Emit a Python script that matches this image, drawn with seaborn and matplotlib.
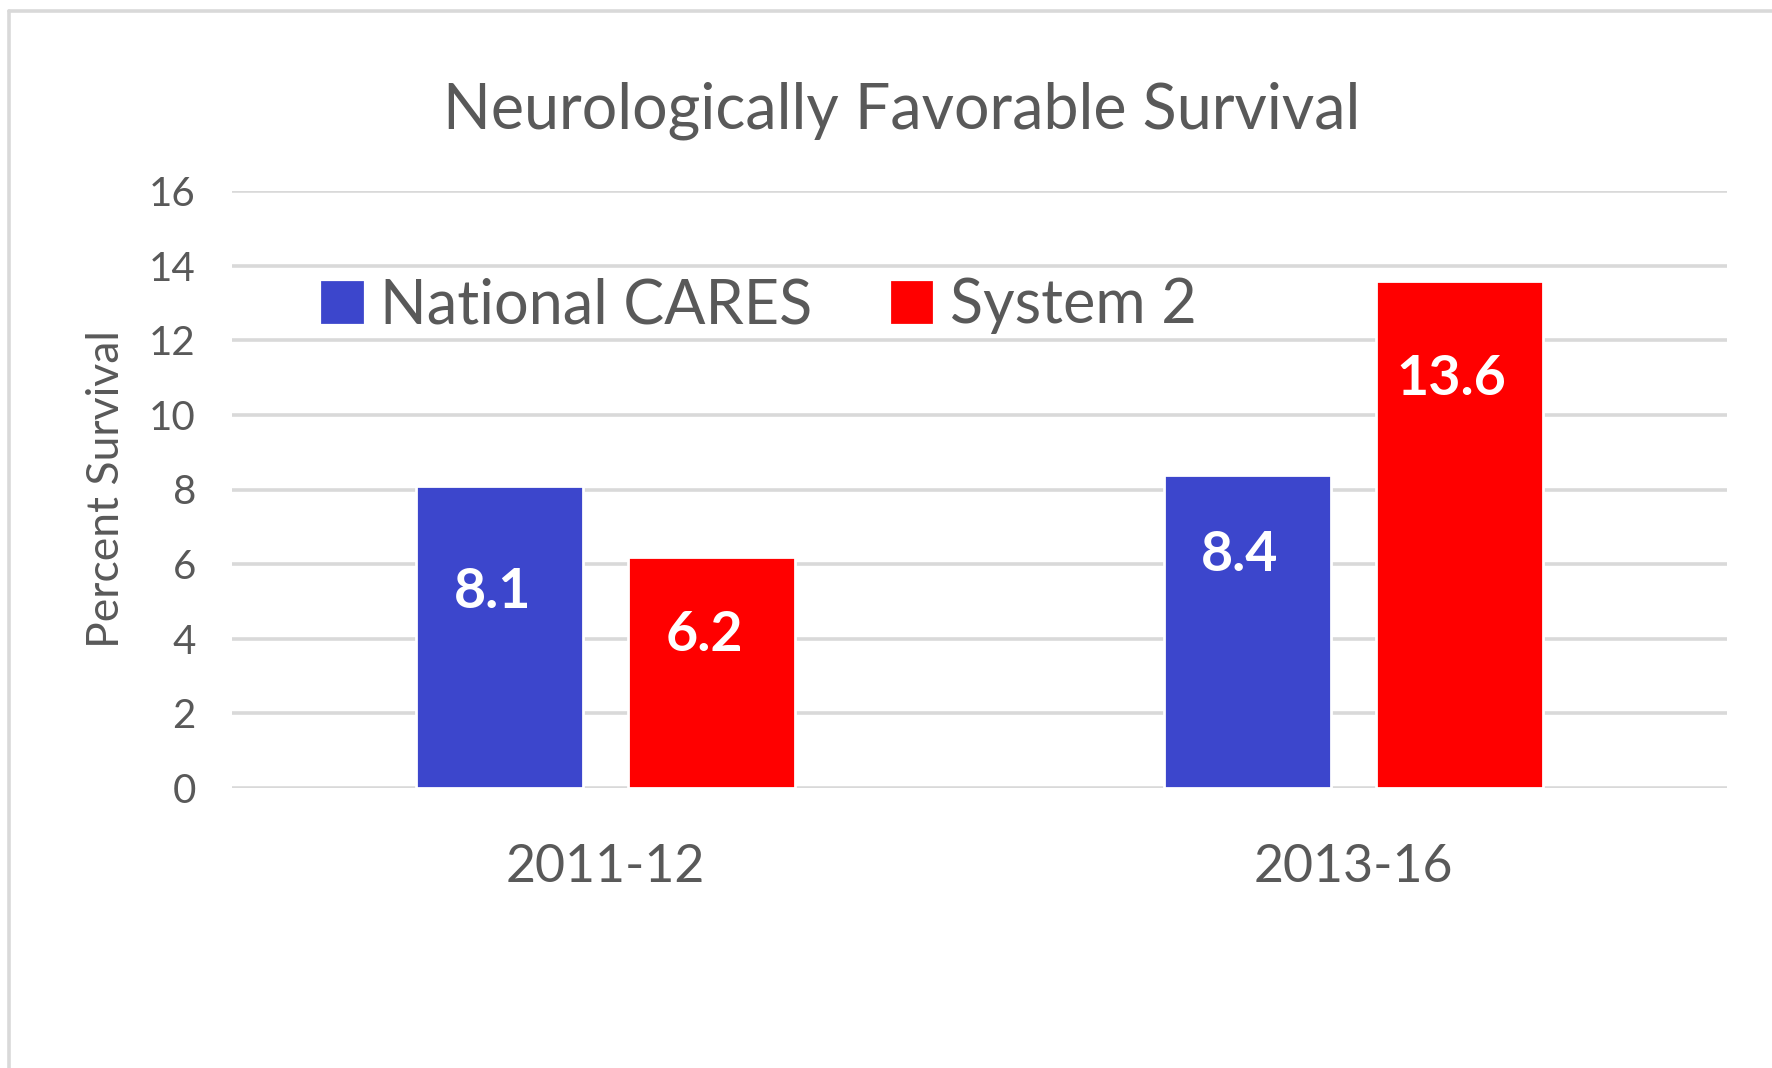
import pandas as pd
import matplotlib.pyplot as plt
import seaborn as sns
from matplotlib.lines import Line2D

# data
periods = ['2011-12', '2013-16']
series = ['National CARES', 'System 2']
national_cares = [8.1, 8.4]
system_2 = [6.2, 13.6]
# how far below the bar top each value label sits (data units)
label_drop = [2.85, 2.1, 2.15, 2.65]

colors = {'National CARES': '#3C46CC', 'System 2': '#FF0000'}
text_grey = '#595959'
grid_grey = '#D9D9D9'

df = pd.DataFrame({
    'period': periods * 2,
    'series': [series[0]] * 2 + [series[1]] * 2,
    'value': national_cares + system_2,
})

sns.set_style('white')
plt.rcParams['font.family'] = ['Lato', 'DejaVu Sans']

fig = plt.figure(figsize=(8.86, 5.34), dpi=200)
ax = fig.add_axes([232 / 1772, 1 - 788 / 1068, (1727 - 232) / 1772, (788 - 191) / 1068])

sns.barplot(data=df, x='period', y='value', hue='series', order=periods,
            hue_order=series, palette=colors, width=0.567, gap=0.21,
            saturation=1, ax=ax, legend=False, zorder=3)

ax.set_ylim(0, 16)
ax.set_xlim(-0.5, 1.5)
ax.set_yticks(range(0, 17, 2))
ax.yaxis.grid(True, color=grid_grey, linewidth=1.3, zorder=0)
ax.set_axisbelow(True)
for s in ax.spines.values():
    s.set_visible(False)
ax.tick_params(axis='y', length=0, pad=13, labelsize=14.5, labelcolor=text_grey)
ax.tick_params(axis='x', length=0, pad=20, labelsize=18.7, labelcolor=text_grey)
ax.set_xlabel('')
ax.set_ylabel('Percent Survival', fontsize=16, color=text_grey, labelpad=8)

# value labels inside bars
for patch, val, drop in zip(ax.patches, national_cares + system_2,
                            [label_drop[0], label_drop[2], label_drop[1], label_drop[3]]):
    cx = patch.get_x() + patch.get_width() / 2
    ax.text(cx - 0.01, val - drop, f'{val:.1f}', ha='center', va='center',
            color='white', fontsize=20, fontweight='bold', zorder=5)

fig.text(0.509, 0.896, 'Neurologically Favorable Survival', ha='center', va='center',
         fontsize=22.6, color=text_grey)

handles = [plt.Rectangle((0, 0), 1, 1, color=colors[s]) for s in series]
leg = fig.legend(handles, series, loc='center left', bbox_to_anchor=(322 / 1772, 1 - 306 / 1068),
                 ncol=2, frameon=False, fontsize=22, handlelength=0.65, handleheight=0.65,
                 handletextpad=0.3, columnspacing=1.3, borderpad=0, borderaxespad=0)
for t in leg.get_texts():
    t.set_color(text_grey)

# chart border (left and top edges visible)
x0 = 9 / 1772
y0 = 1 - 11 / 1068
fig.add_artist(Line2D([x0, x0], [0, y0], color=grid_grey, linewidth=1.3))
fig.add_artist(Line2D([x0, 1], [y0, y0], color=grid_grey, linewidth=1.3))

fig.savefig('out.png', dpi=200, facecolor='white')
